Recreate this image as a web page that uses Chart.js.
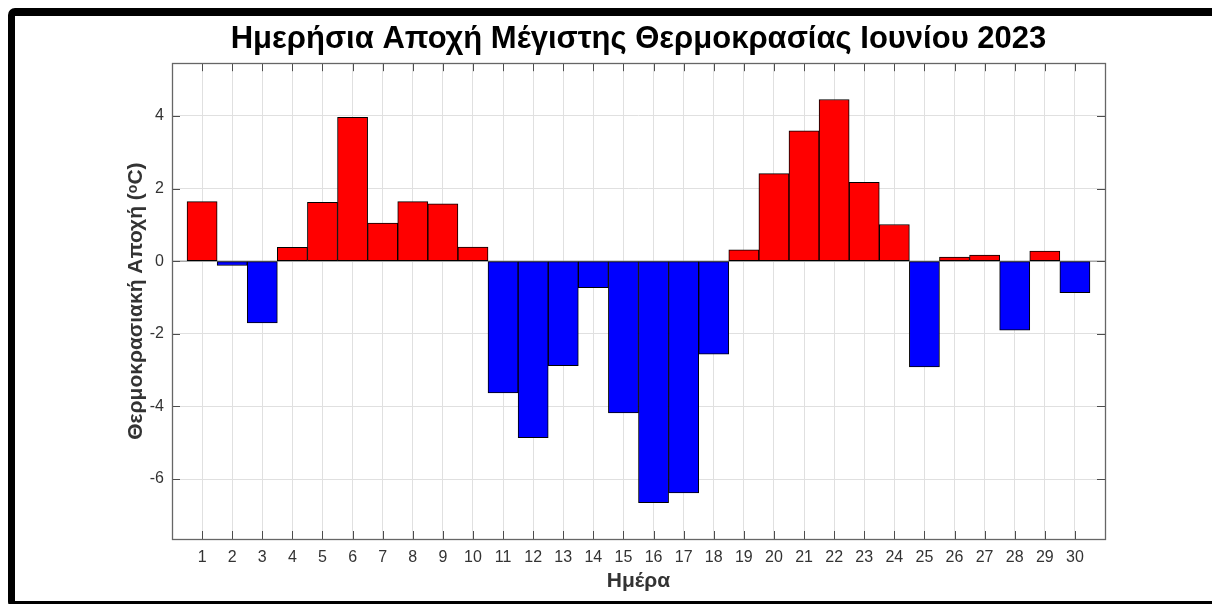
<!DOCTYPE html>
<html>
<head>
<meta charset="utf-8">
<script src="https://cdn.jsdelivr.net/npm/chart.js@4.4.1/dist/chart.umd.min.js"></script>
<style>
  html, body { margin: 0; padding: 0; background: #ffffff; overflow: hidden; width: 1212px; height: 604px; }
  #wrap { position: relative; width: 1212px; height: 604px; }
  canvas { position: absolute; left: 0; top: 0; }
  #frame { position: absolute; left: 8px; top: 8px; width: 1300px; height: 601px; box-sizing: border-box;
           border-style: solid; border-color: #000; border-width: 8px 8px 8px 7px; border-radius: 7px; pointer-events: none; }
</style>
</head>
<body>
<div id="wrap">
  <canvas id="c" width="1212" height="604"></canvas>
  <div id="frame"></div>
</div>
<script>
// ---- data ----
const days = [1,2,3,4,5,6,7,8,9,10,11,12,13,14,15,16,17,18,19,20,21,22,23,24,25,26,27,28,29,30];
const anomalies = [1.64,-0.12,-1.70,0.38,1.62,3.96,1.05,1.64,1.58,0.39,
                   -3.63,-4.86,-2.88,-0.73,-4.18,-6.65,-6.38,-2.56,0.31,2.41,
                   3.59,4.45,2.17,1.01,-2.91,0.11,0.17,-1.90,0.28,-0.87];
const yTicks = [-6,-4,-2,0,2,4];
const titleText = 'Ημερήσια Αποχή Μέγιστης Θερμοκρασίας Ιουνίου 2023';
const xTitle = 'Ημέρα';
const yTitle = 'Θερμοκρασιακή Αποχή (ᵒC)';

const FONT = "'Liberation Sans', Arial, Helvetica, sans-serif";
const yMin = Math.min(...anomalies) - 1;
const yMax = Math.max(...anomalies) + 1;

const axesPlugin = {
  id: 'matlabAxes',
  beforeDatasetsDraw(chart) {
    const {ctx, chartArea: a, scales: {y}} = chart;
    const y0 = y.getPixelForValue(0);
    ctx.save();
    ctx.strokeStyle = '#a6a6a6';
    ctx.lineWidth = 1.5;
    ctx.beginPath();
    ctx.moveTo(a.left, y0);
    ctx.lineTo(a.right, y0);
    ctx.stroke();
    ctx.restore();
  },
  afterDatasetsDraw(chart) {
    const {ctx, chartArea: a, scales: {x, y}} = chart;
    ctx.save();
    ctx.strokeStyle = '#4d4d4d';
    ctx.lineWidth = 1;
    const tl = 8;
    ctx.beginPath();
    x.ticks.forEach(t => {
      const px = Math.round(x.getPixelForValue(t.value)) + 0.5;
      ctx.moveTo(px, a.bottom); ctx.lineTo(px, a.bottom - tl);
      ctx.moveTo(px, a.top); ctx.lineTo(px, a.top + tl);
    });
    y.ticks.forEach(t => {
      const py = Math.round(y.getPixelForValue(t.value)) + 0.5;
      ctx.moveTo(a.left, py); ctx.lineTo(a.left + tl, py);
      ctx.moveTo(a.right, py); ctx.lineTo(a.right - tl, py);
    });
    ctx.stroke();
    ctx.strokeStyle = '#666666';
    ctx.lineWidth = 1.3;
    ctx.strokeRect(Math.round(a.left) + 0.5, Math.round(a.top) + 0.5,
                   Math.round(a.right - a.left), Math.round(a.bottom - a.top));
    ctx.restore();
  }
};

new Chart(document.getElementById('c'), {
  type: 'bar',
  data: {
    datasets: [{
      data: days.map((d, i) => ({x: d, y: anomalies[i]})),
      backgroundColor: ctx => (ctx.raw && ctx.raw.y >= 0) ? '#ff0000' : '#0000ff',
      borderColor: '#000000',
      borderWidth: 1,
      borderSkipped: false,
      barPercentage: 1,
      categoryPercentage: 1
    }]
  },
  options: {
    responsive: false,
    animation: false,
    devicePixelRatio: 1,
    layout: { padding: { left: 0, right: 107, top: 0, bottom: 0 } },
    plugins: {
      legend: { display: false },
      tooltip: { enabled: false },
      title: {
        display: true,
        fullSize: false,
        text: titleText,
        color: '#000000',
        font: { family: FONT, size: 31, weight: 'bold', lineHeight: 1.2 },
        padding: { top: 21, bottom: 5 }
      }
    },
    scales: {
      x: {
        type: 'linear',
        min: 0,
        max: 31,
        offset: false,
        afterBuildTicks: s => { s.ticks = days.map(v => ({value: v})); },
        afterFit: s => { s.height = 65; },
        grid: { color: '#e0e0e0', lineWidth: 1, drawTicks: false, offset: false },
        border: { display: false },
        ticks: {
          autoSkip: false,
          maxRotation: 0,
          padding: 9,
          color: '#333333',
          font: { family: FONT, size: 16 },
          callback: v => String(v)
        },
        title: {
          display: true,
          text: xTitle,
          color: '#333333',
          font: { family: FONT, size: 21, weight: 'bold', lineHeight: 1.2 },
          padding: { top: 0, bottom: 10 }
        }
      },
      y: {
        type: 'linear',
        min: yMin,
        max: yMax,
        afterBuildTicks: s => { s.ticks = yTicks.map(v => ({value: v})); },
        afterFit: s => { s.width = 172; },
        grid: { color: '#e0e0e0', lineWidth: 1, drawTicks: false },
        border: { display: false },
        ticks: {
          padding: 8,
          color: '#333333',
          font: { family: FONT, size: 16 },
          callback: v => String(v)
        },
        title: {
          display: true,
          text: yTitle,
          color: '#333333',
          font: { family: FONT, size: 21, weight: 'bold', lineHeight: 1.2 },
          padding: { top: 124, bottom: 0 }
        }
      }
    }
  },
  plugins: [axesPlugin]
});
</script>
</body>
</html>
